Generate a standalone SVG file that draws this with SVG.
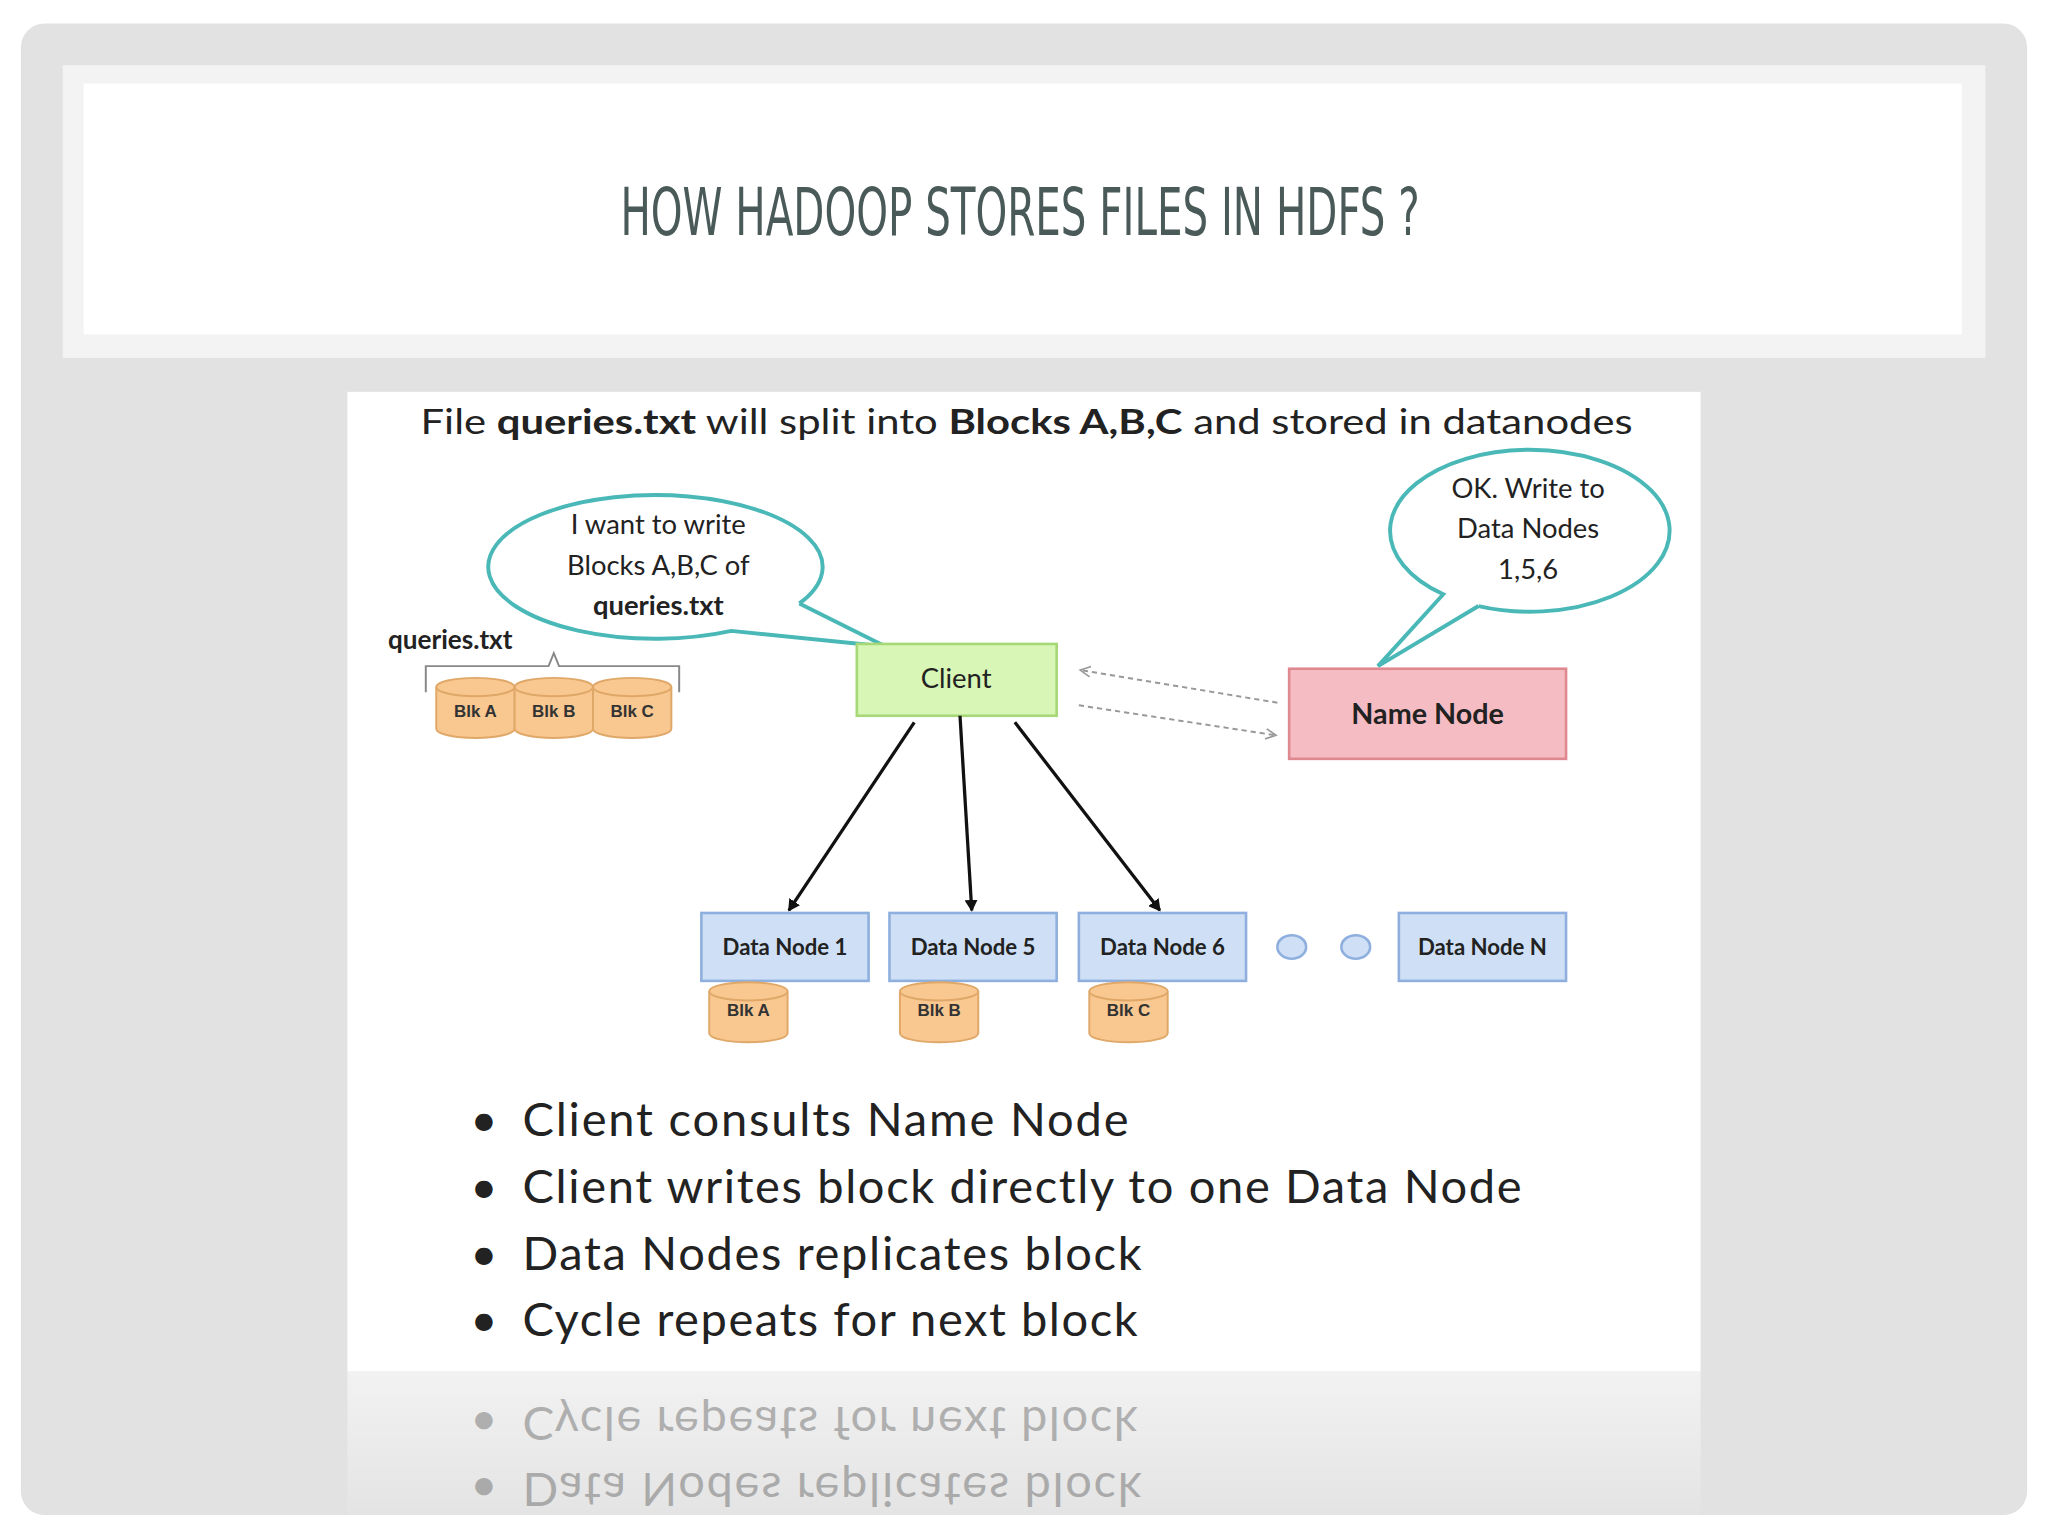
<svg xmlns="http://www.w3.org/2000/svg" width="2048" height="1536" viewBox="0 0 2048 1536">
<defs>
<style>
.t{font-family:Lato,"Liberation Sans",sans-serif;fill:#222}
.sm{font-family:"Liberation Sans",sans-serif;font-size:13px;font-weight:bold;fill:#333;text-anchor:middle}
.dn{fill:#cfe0f6;stroke:#8fb0de;stroke-width:2}
.cyl{fill:#f9c790;stroke:#e0a868;stroke-width:1.5}
.bub{fill:#fff;stroke:#4bb8b8;stroke-width:3;stroke-linejoin:miter}
.blk{stroke:#111;stroke-width:2.5;fill:none;marker-end:url(#ah)}
.dash{stroke:#999;stroke-width:1.5;stroke-dasharray:4 3;fill:none}
</style>
<marker id="ah" markerWidth="10" markerHeight="10" refX="8" refY="5" orient="auto" markerUnits="userSpaceOnUse"><path d="M0,0 L9,5 L0,10 Z" fill="#111"/></marker>
<marker id="oh" markerWidth="10" markerHeight="10" refX="8" refY="5" orient="auto" markerUnits="userSpaceOnUse"><path d="M0,1 L8,5 L0,9" fill="none" stroke="#999" stroke-width="1.2"/></marker>
<linearGradient id="fade" x1="0" y1="0" x2="0" y2="1"><stop offset="0" stop-color="#fff" stop-opacity="0.55"/><stop offset="1" stop-color="#fff" stop-opacity="0"/></linearGradient>
<g id="cy"><path d="M-30,-16 L-30,16 A30,7 0 0 0 30,16 L30,-16" class="cyl"/><ellipse cx="0" cy="-16" rx="30" ry="7" class="cyl"/></g>
</defs>
<rect width="2048" height="1536" fill="#fff"/>
<g transform="scale(1.30612)">
<rect x="16" y="18" width="1536" height="1142" rx="18" fill="#e2e2e2"/>
<g id="title">
<rect x="48" y="50" width="1472" height="224" fill="#f3f3f3"/>
<rect x="64" y="64" width="1438" height="192" fill="#fff"/>
<text x="781" y="180" text-anchor="middle" font-family="'DejaVu Sans Condensed','Liberation Sans Narrow',sans-serif" font-size="50" fill="#4a5a58" textLength="612" lengthAdjust="spacingAndGlyphs">HOW HADOOP STORES FILES IN HDFS ?</text>
</g>
<rect x="266" y="300" width="1036" height="750" fill="#fff"/>
<rect x="266" y="1050" width="1036" height="126" fill="url(#fade)"/>
<text class="t" x="322" y="332" font-size="26" textLength="928" lengthAdjust="spacingAndGlyphs">File <tspan font-weight="bold">queries.txt</tspan> will split into <tspan font-weight="bold">Blocks A,B,C</tspan> and stored in datanodes</text>
<g id="bubbleL">
<path class="bub" d="M612,462 L678,495 L560,483 A128,55 0 1 1 612,462"/>
<text class="t" text-anchor="middle" font-size="21" x="504" y="409">I want to write</text>
<text class="t" text-anchor="middle" font-size="21" x="504" y="440">Blocks A,B,C of</text>
<text class="t" text-anchor="middle" font-size="21" font-weight="bold" x="504" y="471">queries.txt</text>
</g>
<g id="bubbleR">
<path class="bub" d="M1132,464 L1055,510 L1105,455 A107,62 0 1 1 1132,464"/>
<text class="t" text-anchor="middle" font-size="21" x="1170" y="381">OK. Write to</text>
<text class="t" text-anchor="middle" font-size="21" x="1170" y="412">Data Nodes</text>
<text class="t" text-anchor="middle" font-size="21" x="1170" y="443">1,5,6</text>
</g>
<g id="queries">
<text class="t" font-size="20" font-weight="bold" x="297" y="497">queries.txt</text>
<path d="M326,530 L326,510 L420,510 L424,500 L428,510 L520,510 L520,530" fill="none" stroke="#888" stroke-width="1.5"/>
<use href="#cy" x="364" y="542"/><use href="#cy" x="424" y="542"/><use href="#cy" x="484" y="542"/>
<text class="sm" x="364" y="549">Blk A</text><text class="sm" x="424" y="549">Blk B</text><text class="sm" x="484" y="549">Blk C</text>
</g>
<g id="client"><rect x="656" y="493" width="153" height="55" fill="#d8f6b6" stroke="#a6d877" stroke-width="2"/><text class="t" x="732" y="527" font-size="21" text-anchor="middle">Client</text></g>
<g id="namenode"><rect x="987" y="512" width="212" height="69" fill="#f6bcc4" stroke="#e08890" stroke-width="2"/><text class="t" x="1093" y="554" font-size="22" font-weight="bold" text-anchor="middle">Name Node</text></g>
<g id="dn1"><rect class="dn" x="537" y="699" width="128" height="52"/><text class="t" x="601" y="731" font-size="17" font-weight="bold" text-anchor="middle">Data Node 1</text><use href="#cy" x="573" y="775"/><text class="sm" x="573" y="778">Blk A</text></g>
<g id="dn5"><rect class="dn" x="681" y="699" width="128" height="52"/><text class="t" x="745" y="731" font-size="17" font-weight="bold" text-anchor="middle">Data Node 5</text><use href="#cy" x="719" y="775"/><text class="sm" x="719" y="778">Blk B</text></g>
<g id="dn6"><rect class="dn" x="826" y="699" width="128" height="52"/><text class="t" x="890" y="731" font-size="17" font-weight="bold" text-anchor="middle">Data Node 6</text><use href="#cy" x="864" y="775"/><text class="sm" x="864" y="778">Blk C</text></g>
<g id="dots"><ellipse cx="989" cy="725" rx="11" ry="9" class="dn"/><ellipse cx="1038" cy="725" rx="11" ry="9" class="dn"/></g>
<g id="dnN"><rect class="dn" x="1071" y="699" width="128" height="52"/><text class="t" x="1135" y="731" font-size="17" font-weight="bold" text-anchor="middle">Data Node N</text></g>
<g id="connectors">
<path class="dash" d="M978,538 L827,513" marker-end="url(#oh)"/>
<path class="dash" d="M826,540 L977,563" marker-end="url(#oh)"/>
<path class="blk" d="M700,553 L604,697"/>
<path class="blk" d="M735,548 L744,697"/>
<path class="blk" d="M777,553 L888,697"/>
</g>
<g id="bullets">
<text class="t" x="360" y="870" font-size="36">•</text><text class="t" x="400" y="870" font-size="36" textLength="464">Client consults Name Node</text>
<text class="t" x="360" y="921" font-size="36">•</text><text class="t" x="400" y="921" font-size="36" textLength="765">Client writes block directly to one Data Node</text>
<text class="t" x="360" y="972" font-size="36">•</text><text class="t" x="400" y="972" font-size="36" textLength="474">Data Nodes replicates block</text>
<text class="t" x="360" y="1023" font-size="36">•</text><text class="t" x="400" y="1023" font-size="36" textLength="471">Cycle repeats for next block</text>
</g>
<g id="reflection" transform="translate(0,2100) scale(1,-1)" opacity="0.3">
<text class="t" x="360" y="1023" font-size="36">•</text><text class="t" x="400" y="1023" font-size="36" textLength="471">Cycle repeats for next block</text>
<text class="t" x="360" y="972" font-size="36">•</text><text class="t" x="400" y="972" font-size="36" textLength="474">Data Nodes replicates block</text>
</g>
</g>
</svg>
